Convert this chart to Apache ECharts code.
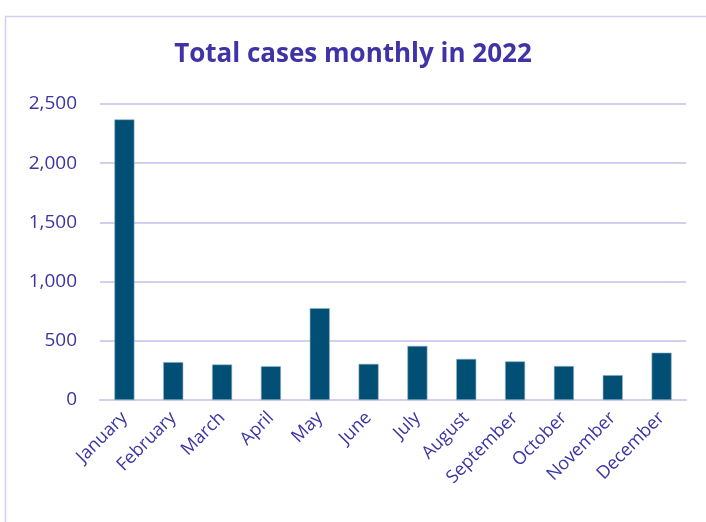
<!DOCTYPE html>
<html>
<head>
<meta charset="utf-8">
<script src="https://cdn.jsdelivr.net/npm/echarts@6/dist/echarts.min.js"></script>
<style>
    html, body { margin: 0; padding: 0; background: #fff; }
    #main { width: 706px; height: 522px; }
</style>
</head>
<body>
<div id="main"></div>
<script>
let months = ['January', 'February', 'March', 'April', 'May', 'June', 'July', 'August', 'September', 'October', 'November', 'December'];
let cases = [2370, 320, 300, 285, 775, 305, 457, 347, 326, 287, 210, 400];
let yTicks = [0, 500, 1000, 1500, 2000, 2500];

let chart = echarts.init(document.getElementById('main'));
let purple = '#3b35a3';

chart.setOption({
    animation: false,
    title: {
        text: 'Total cases monthly in 2022',
        left: 'center',
        top: 37,
        textStyle: {
            color: '#3f33a6',
            fontSize: 26,
            fontWeight: 'bold',
            fontFamily: 'Open Sans'
        }
    },
    graphic: [{
        type: 'rect',
        shape: { x: 5.5, y: 16.5, width: 760, height: 560 },
        style: { fill: 'none', stroke: '#d3cff0', lineWidth: 1.5 },
        silent: true
    }],
    grid: {
        left: 100,
        right: 20,
        top: 104,
        bottom: 122
    },
    xAxis: {
        type: 'category',
        data: months,
        axisTick: { show: false },
        axisLine: {
            show: true,
            lineStyle: { color: '#d4cfee', width: 2 }
        },
        axisLabel: {
            interval: 0,
            rotate: 45,
            margin: 15,
            color: purple,
            fontSize: 18,
            fontFamily: 'Open Sans'
        }
    },
    yAxis: {
        type: 'value',
        min: yTicks[0],
        max: yTicks[yTicks.length - 1],
        interval: 500,
        axisLine: { show: false },
        axisTick: { show: false },
        splitLine: {
            lineStyle: { color: '#d4cfee', width: 2 }
        },
        axisLabel: {
            margin: 23,
            color: purple,
            fontSize: 19,
            fontFamily: 'Open Sans',
            formatter: v => v.toLocaleString('en-US')
        }
    },
    series: [{
        type: 'bar',
        data: cases,
        barWidth: '41%',
        itemStyle: {
            color: '#024f75',
            borderColor: '#8fb0c6',
            borderWidth: 0.6
        }
    }]
});
</script>
</body>
</html>
